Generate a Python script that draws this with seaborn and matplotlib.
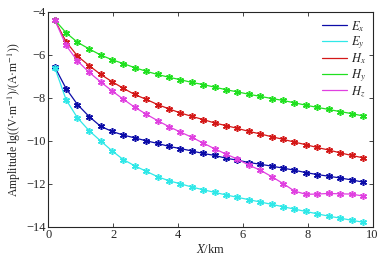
import numpy as np
import pandas as pd
import matplotlib
matplotlib.use("Agg")
import matplotlib.pyplot as plt
import seaborn as sns
from matplotlib.lines import Line2D

x_km = [0.20, 0.55, 0.90, 1.26, 1.61, 1.96, 2.31, 2.66, 3.02, 3.37, 3.72, 4.07, 4.42, 4.78,
        5.13, 5.48, 5.83, 6.18, 6.54, 6.89, 7.24, 7.59, 7.94, 8.29, 8.65, 9.00, 9.35, 9.70]

Ex = [-6.56, -7.57, -8.31, -8.87, -9.32, -9.56, -9.73, -9.86, -10.00, -10.12, -10.26, -10.36,
      -10.47, -10.59, -10.68, -10.81, -10.90, -11.01, -11.09, -11.18, -11.27, -11.37, -11.48,
      -11.57, -11.65, -11.73, -11.82, -11.92]
Ey = [-6.59, -8.09, -8.93, -9.53, -10.00, -10.46, -10.87, -11.16, -11.42, -11.67, -11.86, -12.00,
      -12.15, -12.28, -12.40, -12.52, -12.63, -12.74, -12.85, -12.96, -13.07, -13.18, -13.29,
      -13.40, -13.51, -13.60, -13.70, -13.79]
Hx = [-4.37, -5.39, -6.05, -6.50, -6.90, -7.24, -7.55, -7.84, -8.07, -8.31, -8.51, -8.70,
      -8.86, -9.01, -9.17, -9.29, -9.42, -9.56, -9.68, -9.81, -9.93, -10.06, -10.18, -10.31,
      -10.43, -10.56, -10.68, -10.79]
Hy = [-4.37, -4.97, -5.41, -5.72, -6.00, -6.22, -6.40, -6.59, -6.76, -6.91, -7.04, -7.15,
      -7.28, -7.38, -7.50, -7.62, -7.72, -7.83, -7.93, -8.03, -8.12, -8.23, -8.34, -8.44,
      -8.54, -8.64, -8.73, -8.84]
Hz = [-4.37, -5.56, -6.28, -6.81, -7.25, -7.67, -8.06, -8.43, -8.76, -9.06, -9.34, -9.59,
      -9.83, -10.11, -10.37, -10.62, -10.85, -11.13, -11.37, -11.67, -11.99, -12.34, -12.49,
      -12.48, -12.45, -12.47, -12.48, -12.57]

labels = ["$E_x$", "$E_y$", "$H_x$", "$H_y$", "$H_z$"]
colors = ["#0c0ca8", "#30e8e8", "#d41818", "#20e020", "#e040e0"]

sns.set_style("ticks")
plt.rcParams["font.family"] = ["Liberation Serif", "DejaVu Serif"]
plt.rcParams["mathtext.fontset"] = "stix"
plt.rcParams["xtick.direction"] = "in"
plt.rcParams["ytick.direction"] = "in"

fig = plt.figure(figsize=(3.91, 2.58), dpi=100)
ax = fig.add_axes([0.1235, 0.1213, 0.8295, 0.8322])

series = [Ex, Ey, Hx, Hy, Hz]
for vals, lab, col in zip(series, labels, colors):
    df = pd.DataFrame({"x": x_km, "y": vals})
    sns.lineplot(data=df, x="x", y="y", ax=ax, color=col, marker=(6, 2, 0), markersize=5,
                 markeredgewidth=1.1, markeredgecolor=col, linewidth=0.9, legend=False)

ax.set_xlim(0, 10)
ax.set_ylim(-14, -4)
ax.set_xticks([0, 2, 4, 6, 8, 10])
ax.set_yticks([-14, -12, -10, -8, -6, -4])
ax.tick_params(top=True, right=True, labelsize=9, length=3, width=0.6, pad=2)
for s in ax.spines.values():
    s.set_linewidth(0.8)
    s.set_visible(True)

ax.set_xlabel("$X$/km", fontsize=9, labelpad=1)
ax.set_ylabel("Amplitude lg((V·m$^{-1}$)/(A·m$^{-1}$))", fontsize=8.5, labelpad=2)

handles = [Line2D([0], [0], color=c, lw=0.9) for c in colors]
ax.legend(handles, labels, loc="upper right", frameon=False, fontsize=9,
          handlelength=2.0, labelspacing=0.05, borderaxespad=0.25, handletextpad=0.3,
          borderpad=0.3)

fig.savefig("out.png", dpi=100)
